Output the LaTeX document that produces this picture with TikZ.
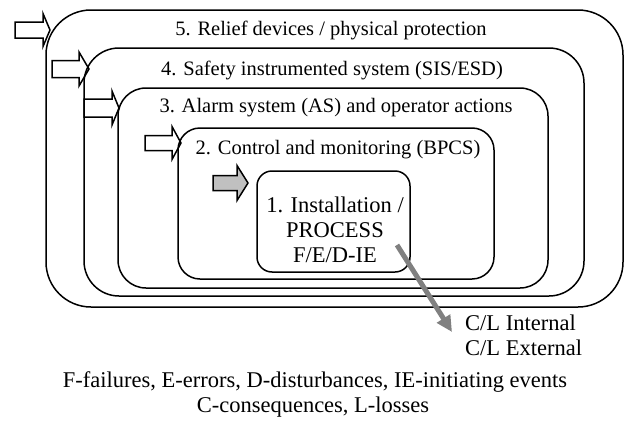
\documentclass[tikz,border=0pt]{standalone}
\usepackage{fontspec}
\setmainfont{Liberation Serif}
\usetikzlibrary{arrows.meta}
\definecolor{arrowgray}{HTML}{808080}
\definecolor{fillgray}{HTML}{C0C0C0}
\newcommand{\blkarrow}[7][white]{%
  \draw[blockarrow, fill=#1] (#2,#5-#6) -- (#3,#5-#6) -- (#3,#5-#7) -- (#4,#5) -- (#3,#5+#7) -- (#3,#5+#6) -- (#2,#5+#6) -- cycle;}
\begin{document}
\begin{tikzpicture}[x=1pt,y=-1pt,
  layerbox/.style={draw, line width=1.5pt, inner sep=0pt},
  blockarrow/.style={draw, line width=1.5pt, line join=miter},
  lbl/.style={font=\fontsize{20.5}{24}\selectfont, inner sep=0pt},
  leg/.style={font=\fontsize{22.5}{25}\selectfont, inner sep=0pt}]
\useasboundingbox (0,0) rectangle (626,423);
% block arrows (drawn below box outlines)
\blkarrow{15}{43}{50}{30}{8}{16.5}
\blkarrow{52}{79}{89}{69}{8.5}{17}
\blkarrow{84}{112}{119}{108}{9}{17}
\blkarrow{145}{172}{181}{143}{7.5}{16.5}
\blkarrow[fillgray]{213}{237}{248}{183}{7.5}{17.5}
% layers
\node[layerbox, rounded corners=45pt, minimum width=577pt, minimum height=297pt] (b5) at (334.5,158.5) {};
\node[layerbox, rounded corners=35pt, minimum width=500pt, minimum height=248pt] (b4) at (334,172) {};
\node[layerbox, rounded corners=28pt, minimum width=430pt, minimum height=200pt] (b3) at (333,188) {};
\node[layerbox, rounded corners=22pt, minimum width=316pt, minimum height=151pt] (b2) at (336,203.5) {};
\node[layerbox, rounded corners=15pt, minimum width=153pt, minimum height=101pt] (b1) at (333.5,221.5) {};
% labels
\node[lbl] (t5) at (331,30) {5. Relief devices / physical protection};
\node[lbl] (t4) at (332,70) {4. Safety instrumented system (SIS/ESD)};
\node[lbl] (t3) at (336,108) {3. Alarm system (AS) and operator actions};
\node[lbl] (t2) at (338,150) {2. Control and monitoring (BPCS)};
\node[leg, align=center] (t1) at (335,230) {1. Installation /\\PROCESS\\F/E/D-IE};
\node[leg, anchor=west] (cli) at (465,323) {C/L Internal};
\node[leg, anchor=west] (cle) at (465,348) {C/L External};
\node[leg] (l1) at (315,382) {F-failures, E-errors, D-disturbances, IE-initiating events};
\node[leg] (l2) at (313,407) {C-consequences, L-losses};
% consequence arrow
\coordinate (cs) at (397,245);
\coordinate (ce) at (452,332);
\draw[arrowgray, line width=5pt, -{Triangle[length=16pt,width=15pt]}] (cs) -- (ce);
\end{tikzpicture}
\end{document}
